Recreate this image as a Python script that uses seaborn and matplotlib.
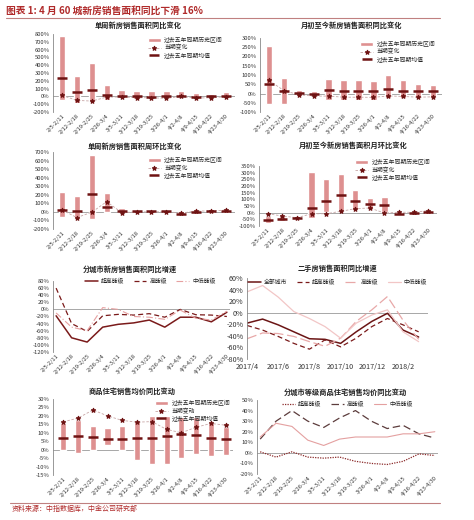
import numpy as np
import matplotlib
matplotlib.use("Agg")
import matplotlib.pyplot as plt
from matplotlib.ticker import FuncFormatter, MultipleLocator
import seaborn as sns

sns.set_style("white")
plt.rcParams['font.family'] = ['Noto Sans CJK SC', 'DejaVu Sans']
plt.rcParams['axes.unicode_minus'] = False

# 周度标签
WEEKS = ['2/5-2/11', '2/12-2/18', '2/19-2/25', '2/26-3/4', '3/5-3/11', '3/12-3/18',
         '3/19-3/25', '3/26-4/1', '4/2-4/8', '4/9-4/15', '4/16-4/22', '4/23-4/30']
MONTHS = ['2017/4', '2017/5', '2017/6', '2017/7', '2017/8', '2017/9',
          '2017/10', '2017/11', '2017/12', '2018/1', '2018/2', '2018/3']

# 单周新房销售面积同比变化 (%)
p1_high = [778, 265, 432, 145, 77, 64, 64, 68, 64, 38, 30, 60]
p1_low = [-51, -90, -68, -43, -25, -30, -34, -25, -13, -25, -25, -21]
p1_mean = [235, 60, 85, 17, 0, 0, -4, 8, 8, -4, 0, 8]
p1_cur = [13, -51, -60, -8, -8, -17, -17, -25, 0, -21, -17, -4]

# 月初至今新房销售面积同比变化 (%)
p2_high = [255, 86, 20, 16, 77, 71, 73, 68, 100, 71, 50, 45]
p2_low = [-59, -59, -16, -12, -34, -34, -37, -36, -25, -27, -23, -20]
p2_mean = [54, 16, 2, 0, 18, 14, 16, 16, 27, 16, 14, 14]
p2_cur = [71, 16, -7, -14, -14, -20, -20, -21, -13, -16, -20, -18]

# 单周新房销售面积周环比变化 (%)
p3_high = [235, 185, 664, 220, 42, 15, 19, 23, -4, 15, 19, 23]
p3_low = [-54, -85, -81, 0, -8, -8, -8, -12, -31, -15, -8, -4]
p3_mean = [19, 12, 212, 62, 8, 8, 8, 8, -19, 0, 8, 12]
p3_cur = [23, -66, -4, 120, -8, 0, 0, 4, -15, 12, 8, 23]

# 月初至今新房销售面积月环比变化 (%)
p4_high = [-28, -23, -30, 302, 249, 291, 173, 108, 115, 5, 8, 18]
p4_low = [-75, -65, -50, -40, 8, 10, 23, 28, 5, -15, -15, -8]
p4_mean = [-53, -50, -43, 33, 90, 133, 85, 63, 55, -8, -3, 3]
p4_cur = [-8, -25, -38, -8, -8, 10, 30, 35, -3, 3, 3, 15]

# 分城市新房销售面积同比增速 (%)
p5_top = [-18, -80, -92, -50, -42, -38, -30, -50, -22, -22, -35, -8]
p5_high = [60, -40, -62, -18, -14, -16, -12, -22, 0, -15, -16, -20]
p5_lowtier = [-10, -50, -60, 5, 0, -20, -22, -28, -2, -25, -30, -5]

# 二手房销售面积同比增速 (%)
p6_all = [-18, -11, -21, -33, -45, -46, -53, -33, -15, -1, -30, -42]
p6_top = [-22, -30, -41, -53, -63, -47, -59, -44, -24, -10, -21, -33]
p6_high = [-45, -35, -36, -41, -50, -58, -44, -15, 5, 28, -13, -46]
p6_lowtier = [36, 47, 27, 2, -10, -24, -44, -18, -4, 5, -33, -50]

# 商品住宅销售均价同比变动 (%)
p7_high = [15.5, 17.5, 14.3, 13.0, 14.0, 17.0, 20.2, 20.2, 19.2, 19.6, 16.0, 13.6]
p7_low = [0, -2.0, 0, 2.6, 0, -6.3, -8.5, -8.3, -5.0, -2.4, -4.0, -3.2]
p7_mean = [7.0, 8.0, 7.3, 6.5, 6.3, 6.7, 7.0, 8.1, 9.3, 8.5, 7.0, 6.5]
p7_cur = [16.5, 18.7, 23.5, 20.0, 17.3, 16.3, 16.6, 12.0, 10.0, 13.3, 15.5, 14.5]

# 分城市等级商品住宅销售均价同比变动 (%)
p8_top = [1, -4, 1, -4, -5, -4, -8, -10, -11, -8, -1, -2.5]
p8_high = [13, 30, 40, 30, 24, 33, 40, 30, 23, 26, 18, 14]
p8_lowtier = [15, 28, 25, 12, 7, 13, 15, 15, 15, 18, 18, 20]

BAR = '#DE9090'
DARK = '#6E1212'
LINE_LIGHT = '#C8A6A6'
FS = 4.2

W, H = 474, 520
fig = plt.figure(figsize=(W / 100, H / 100), dpi=100)


def axes_px(l, t, r, b):
    return fig.add_axes([l / W, 1 - b / H, (r - l) / W, (b - t) / H])


def pct(v, pos):
    return f'{v:.0f}%'


def style_axis(ax, ymin, ymax, step, labels, rot=45):
    ax.set_ylim(ymin, ymax)
    ax.yaxis.set_major_locator(MultipleLocator(step))
    ax.yaxis.set_major_formatter(FuncFormatter(pct))
    for s in ['top', 'right', 'bottom']:
        ax.spines[s].set_visible(False)
    ax.spines['left'].set_color('#888888')
    ax.spines['left'].set_linewidth(0.6)
    ax.axhline(0, color='#999999', lw=0.6, zorder=1)
    ax.tick_params(axis='y', labelsize=FS, length=1.5, width=0.5, pad=1, colors='#333333')
    ax.tick_params(axis='x', labelsize=FS, length=0, pad=1, colors='#333333')
    ax.set_xlabel('')
    ax.set_ylabel('')
    if labels is not None:
        ax.set_xticks(range(len(labels)))
        ax.set_xticklabels(labels, rotation=rot, ha='right', rotation_mode='anchor')


def bar_panel(ax, high, low, mean, cur, ylim, step, cur_label='当期变化',
              leg_anchor=(1.0, 1.0)):
    x = np.arange(len(high))
    h = np.array(high, dtype=float)
    l = np.array(low, dtype=float)
    ax.bar(x, h - l, bottom=l, width=0.42, color=BAR, label='过去五年同期历史区间', zorder=2)
    sns.lineplot(x=x, y=cur, ax=ax, color=LINE_LIGHT, lw=0.6, linestyle=(0, (3, 2)),
                 marker='*', markersize=3.5, markerfacecolor=DARK, markeredgecolor=DARK,
                 label=cur_label, zorder=4)
    ax.plot(x, mean, ls='none', marker='_', ms=7.5, mew=1.8, color=DARK,
            label='过去五年同期均值', zorder=5)
    ax.set_xlim(-0.6, len(high) - 0.4)
    style_axis(ax, ylim[0], ylim[1], step, WEEKS)
    handles, labels = ax.get_legend_handles_labels()
    order = ['过去五年同期历史区间', cur_label, '过去五年同期均值']
    hmap = dict(zip(labels, handles))
    ax.legend([hmap[k] for k in order], order, loc='upper right', bbox_to_anchor=leg_anchor,
              fontsize=FS, frameon=False, handlelength=2.2, handletextpad=0.6,
              labelspacing=0.25, borderaxespad=0.1)


def line_legend(ax, ncol, anchor):
    ax.legend(loc='upper center', bbox_to_anchor=anchor, ncol=ncol, fontsize=FS,
              frameon=False, handlelength=2.2, columnspacing=1.6, handletextpad=0.5,
              borderaxespad=0)


# 1
ax1 = axes_px(53, 34, 235, 112)
bar_panel(ax1, p1_high, p1_low, p1_mean, p1_cur, (-200, 800), 100, leg_anchor=(0.95, 1.0))
# 2
ax2 = axes_px(260, 38, 442, 112)
bar_panel(ax2, p2_high, p2_low, p2_mean, p2_cur, (-100, 300), 50, leg_anchor=(0.98, 1.0))
# 3
ax3 = axes_px(53, 152, 235, 229)
bar_panel(ax3, p3_high, p3_low, p3_mean, p3_cur, (-200, 700), 100, leg_anchor=(0.95, 0.97))
# 4
ax4 = axes_px(259, 166, 437, 226)
bar_panel(ax4, p4_high, p4_low, p4_mean, p4_cur, (-100, 350), 50, leg_anchor=(0.98, 1.16))

# 5
ax5 = axes_px(53, 281, 230, 352)
x = np.arange(12)
sns.lineplot(x=x, y=p5_top, ax=ax5, color='#7A1A1A', lw=1.1, label='超高能级')
sns.lineplot(x=x, y=p5_high, ax=ax5, color='#7A1A1A', lw=0.9, linestyle=(0, (4, 2.5)), label='高能级')
sns.lineplot(x=x, y=p5_lowtier, ax=ax5, color='#E6A0A0', lw=0.8, linestyle=(0, (6, 2, 1, 2)), label='中低能级')
ax5.set_xlim(-0.2, 11.2)
style_axis(ax5, -120, 80, 20, WEEKS)
line_legend(ax5, 3, (0.55, 1.08))

# 6
ax6 = axes_px(247, 278, 428, 359)
sns.lineplot(x=x, y=p6_all, ax=ax6, color='#6B1515', lw=1.1, label='全部城市')
sns.lineplot(x=x, y=p6_top, ax=ax6, color='#7A1A1A', lw=0.9, linestyle=(0, (4, 2.5)), label='超高能级')
sns.lineplot(x=x, y=p6_high, ax=ax6, color='#E8A8A8', lw=0.9, linestyle=(0, (8, 3)), label='高能级')
sns.lineplot(x=x, y=p6_lowtier, ax=ax6, color='#F2C6C6', lw=0.9, label='中低能级')
ax6.set_xlim(0, 11.6)
style_axis(ax6, -80, 60, 20, None)
ax6.set_xticks(range(0, 12, 2))
ax6.set_xticklabels(MONTHS[::2], rotation=0, ha='center')
ax6.tick_params(axis='x', labelsize=5.2, pad=3)
ax6.tick_params(axis='y', labelsize=5.2)
line_legend(ax6, 4, (0.5, 1.02))

# 7
ax7 = axes_px(53, 399, 233, 475)
bar_panel(ax7, p7_high, p7_low, p7_mean, p7_cur, (-15, 30), 5, cur_label='当期变动',
          leg_anchor=(1.0, 1.02))
ax7.set_xlim(-0.7, 11.5)

# 8
ax8 = axes_px(257, 400, 438, 474)
sns.lineplot(x=x, y=p8_top, ax=ax8, color='#8B2A2A', lw=0.9, linestyle=(0, (1, 1)), label='超高能级')
sns.lineplot(x=x, y=p8_high, ax=ax8, color='#5C3C3C', lw=0.9, linestyle=(0, (6, 3)), label='高能级')
sns.lineplot(x=x, y=p8_lowtier, ax=ax8, color='#E4A0A0', lw=0.8, label='中低能级')
ax8.set_xlim(-0.2, 11.2)
style_axis(ax8, -20, 50, 10, WEEKS)
line_legend(ax8, 3, (0.5, 1.02))

# 小标题
titles = [
    (138, 25, '单周新房销售面积同比变化'),
    (352, 25, '月初至今新房销售面积同比变化'),
    (135, 146, '单周新房销售面积周环比变化'),
    (353, 145, '月初至今新房销售面积月环比变化'),
    (130, 269, '分城市新房销售面积同比增速'),
    (338, 268, '二手房销售面积同比增速'),
    (132, 391, '商品住宅销售均价同比变动'),
    (345, 392, '分城市等级商品住宅销售均价同比变动'),
]
for tx, ty, t in titles:
    fig.text(tx / W, 1 - ty / H, t, ha='center', va='center', fontsize=5.2,
             fontweight='bold', color='#222222')

fig.text(6 / W, 1 - 11 / H, '图表 1: 4 月 60 城新房销售面积同比下滑 16%', ha='left',
         va='center', fontsize=7, fontweight='bold', color='#B02A2A', style='italic')
fig.add_artist(plt.Line2D([6 / W, 440 / W], [1 - 18 / H, 1 - 18 / H], color='#C08080', lw=0.8))
fig.add_artist(plt.Line2D([10 / W, 440 / W], [1 - 503 / H, 1 - 503 / H], color='#C08080', lw=0.8))
fig.text(12 / W, 1 - 509 / H, '资料来源：中指数据库，中金公司研究部', ha='left', va='center',
         fontsize=5, color='#B02A2A', style='italic')

plt.savefig('out.png', dpi=100)
